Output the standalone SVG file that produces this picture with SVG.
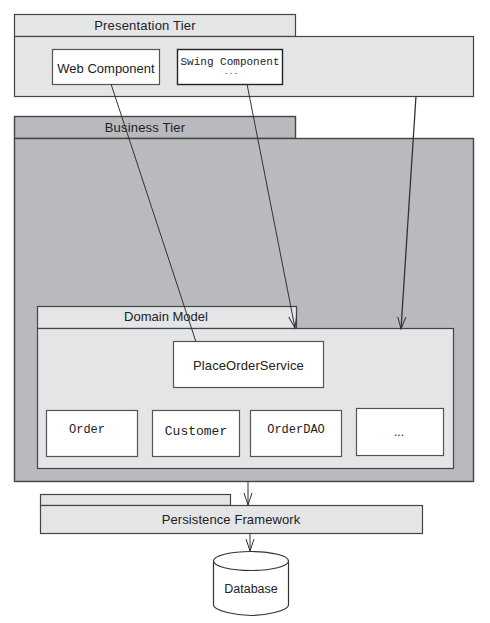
<svg xmlns="http://www.w3.org/2000/svg" width="490" height="623" viewBox="0 0 490 623">
<defs>
<marker id="vee" viewBox="0 0 14 10" refX="13" refY="5" markerWidth="14" markerHeight="10" markerUnits="userSpaceOnUse" orient="auto" overflow="visible"><path d="M1 1 L13 5 L1 9" fill="none" stroke="#333" stroke-width="1"/></marker>
</defs>
<style>
text{font-family:"Liberation Sans",Arial,sans-serif;font-size:13px;fill:#222;text-anchor:middle}
.m{font-family:"Liberation Mono","Courier New",monospace;font-size:12px}
.light{fill:#e4e5e7;stroke:#444;stroke-width:1.2}
.dark{fill:#b9babd;stroke:#444;stroke-width:1.4}
.box{fill:#fff;stroke:#555;stroke-width:1.2}
.c{fill:none;stroke:#333;stroke-width:1}
</style>
<rect width="490" height="623" fill="#fff"/>
<g id="presentation-tier">
<rect class="light" x="14.500" y="14.500" width="281" height="22"/>
<rect class="light" x="14.500" y="36.500" width="459" height="60"/>
<text x="145" y="29.500" style="letter-spacing:.2px">Presentation Tier</text>
</g>
<g id="web-component">
<rect class="box" x="52.500" y="49.500" width="107" height="35"/>
<text x="106" y="72.500">Web Component</text>
</g>
<g id="swing-component">
<rect x="177.500" y="49.500" width="105" height="35" fill="#fff" stroke="#222" stroke-width="1.400"/>
<text class="m" x="230" y="65" style="font-size:11px">Swing Component</text>
<text class="m" x="231" y="74" style="font-size:8px">...</text>
</g>
<g id="business-tier">
<rect class="dark" x="14.500" y="116.500" width="281" height="22"/>
<rect class="dark" x="14.500" y="138.500" width="459" height="343"/>
<text x="145" y="131.500" style="letter-spacing:.2px">Business Tier</text>
</g>
<g id="domain-model">
<rect class="light" x="37.500" y="306.500" width="259" height="22"/>
<rect class="light" x="37.500" y="328.500" width="416" height="140"/>
<text x="166" y="321">Domain Model</text>
</g>
<g id="place-order-service">
<rect class="box" x="173.500" y="341.500" width="150" height="46"/>
<text x="248.500" y="369.500" style="letter-spacing:.1px">PlaceOrderService</text>
</g>
<g id="order">
<rect class="box" x="46.500" y="410.500" width="91" height="46"/>
<text class="m" x="87" y="433">Order</text>
</g>
<g id="customer">
<rect class="box" x="152.500" y="410.500" width="87" height="46"/>
<text class="m" x="196" y="435" style="font-size:13px">Customer</text>
</g>
<g id="order-dao">
<rect class="box" x="250.500" y="410.500" width="91" height="46"/>
<text class="m" x="296" y="433">OrderDAO</text>
</g>
<g id="other">
<rect class="box" x="356.500" y="408.500" width="87" height="47"/>
<text x="399" y="436" style="font-size:12px">...</text>
</g>
<g id="persistence-framework">
<rect class="light" x="40.500" y="494.500" width="190" height="11"/>
<rect class="light" x="40.500" y="505.500" width="382" height="28"/>
<text x="231" y="524" style="letter-spacing:.1px">Persistence Framework</text>
</g>
<g id="database">
<path d="M213.500 561 V605 C213.500 611 238 615.500 251 615.500 C264 615.500 288.500 611 288.500 605 V561" fill="#fff" stroke="#333" stroke-width="1.200"/>
<ellipse cx="251" cy="561" rx="37.500" ry="9.500" fill="#fff" stroke="#333" stroke-width="1.200"/>
<text x="251" y="593" style="font-size:12.500px">Database</text>
</g>
<g id="connectors">
<path class="c" d="M111 84 L196 342"/>
<path class="c" d="M247 84 L295 328" marker-end="url(#vee)"/>
<path class="c" style="stroke-width:1.300" d="M416 96 L401 329" marker-end="url(#vee)"/>
<path class="c" d="M248 482 L248 505" marker-end="url(#vee)"/>
<path class="c" d="M250 534 L250 551" marker-end="url(#vee)"/>
</g>
</svg>
